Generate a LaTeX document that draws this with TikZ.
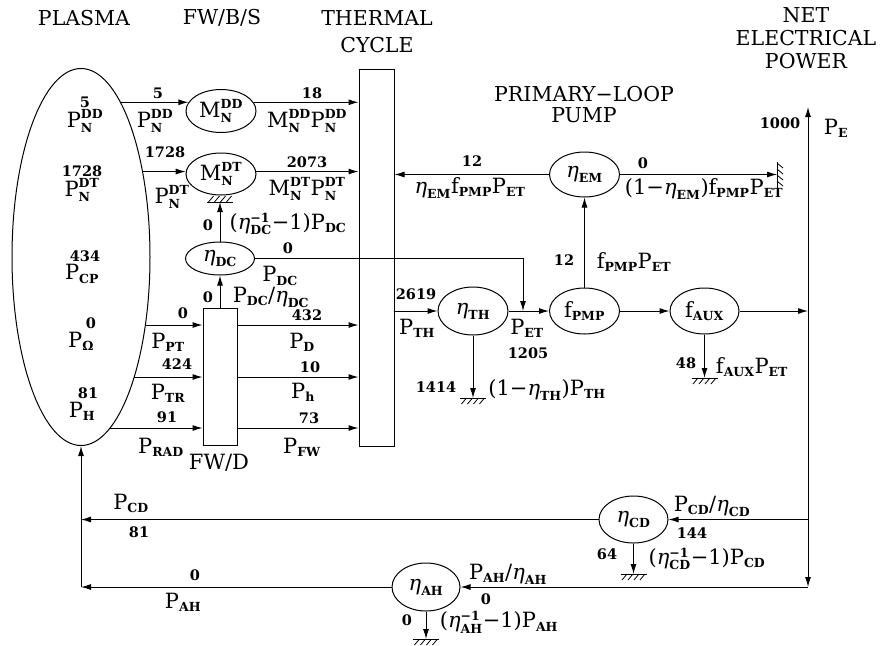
\RequirePackage{fix-cm}
\documentclass[tikz,border=0pt]{standalone}
\usepackage{fontspec}
\setmainfont{DejaVu Serif}
\usetikzlibrary{shapes.geometric,arrows.meta}
\newcommand{\sbx}[1]{\hbox{\fontsize{12.5}{13}\selectfont\bfseries #1}}
\newcommand{\xP}[1]{\ensuremath{\hbox{P}_{\sbx{#1}}}}
\newcommand{\xPP}[2]{\ensuremath{\hbox{P}^{\sbx{#1}}_{\sbx{#2}}}}
\newcommand{\xM}[2]{\ensuremath{\hbox{M}^{\sbx{#1}}_{\sbx{#2}}}}
\newcommand{\xf}[1]{\ensuremath{\hbox{f}_{\sbx{#1}}}}
\newcommand{\xe}[1]{\ensuremath{\hbox{\itshape η}_{\sbx{#1}}}}
\newcommand{\xei}[1]{\ensuremath{\hbox{\itshape η}^{\sbx{−1}}_{\sbx{#1}}}}
\tikzset{
  lab/.style={font=\fontsize{21}{24}\selectfont, inner sep=0pt},
  num/.style={font=\fontsize{14.5}{16}\selectfont\bfseries, inner sep=0pt},
  hdr/.style={font=\fontsize{20.5}{24}\selectfont, align=center, inner sep=0pt},
  ell/.style={draw, ellipse, inner sep=0pt, minimum width=70pt, minimum height=45pt, font=\fontsize{21}{24}\selectfont},
  blk/.style={draw, rectangle, inner sep=0pt},
  arr/.style={-{Latex[length=10pt,width=6pt]}},
  gnd/.pic={\draw[line width=0.9pt] (-13,0)--(13,0);
    \foreach \i in {-9,-3,3,9} \draw[line width=0.8pt] (\i+2.5,0)--(\i-2.5,6);}
}
\begin{document}
\begin{tikzpicture}[x=1pt,y=-1pt,line width=1pt]
\useasboundingbox (0,0) rectangle (890,645);

% headers
\node[hdr] (hPL) at (84,18) {PLASMA};
\node[hdr] (hFW) at (222,18) {FW/B/S};
\node[hdr, font=\fontsize{20.5}{27}\selectfont] (hTC) at (377,31.5) {THERMAL\\CYCLE};
\node[hdr, font=\fontsize{20.5}{21}\selectfont] (hPP) at (584,105) {PRIMARY−LOOP\\PUMP};
\node[hdr, font=\fontsize{20.5}{23}\selectfont] (hNE) at (806,38) {NET\\ELECTRICAL\\POWER};

% main blocks
\node[draw, ellipse, inner sep=0pt, minimum width=138pt, minimum height=377pt] (plasma) at (81,257) {};
\node[blk, minimum width=34pt, minimum height=137pt] (fwd) at (220,376.5) {};
\node[blk, minimum width=35pt, minimum height=377pt] (tc) at (376.5,257.5) {};

\node[ell, minimum height=43pt] (MDD) at (221,111) {\xM{DD}{N}};
\node[ell, minimum height=42pt] (MDT) at (221,174) {\xM{DT}{N}};
\node[ell, minimum width=69pt, minimum height=33pt] (etaDC) at (220,258.5) {\xe{DC}};
\node[ell, minimum height=48pt] (etaTH) at (473,311) {\xe{TH}};
\node[ell, minimum height=46pt] (fPMP) at (584.5,311) {\xf{PMP}};
\node[ell, minimum width=69pt, minimum height=46pt] (fAUX) at (704.5,311) {\xf{AUX}};
\node[ell, minimum height=45pt] (etaEM) at (584.5,174.5) {\xe{EM}};
\node[ell, minimum width=69pt, minimum height=47pt] (etaCD) at (633.5,519.5) {\xe{CD}};
\node[ell, minimum width=68pt, minimum height=48pt] (etaAH) at (426,587) {\xe{AH}};

\node[lab] (lFWD) at (219,463) {FW/D};

% plasma labels
\node[lab] (lDD) at (85,121) {\xPP{DD}{N}};
\node[num, anchor=south] (nDD) at ([yshift=0.5pt]lDD.north) {5};
\node[lab] (lDT) at (82,190) {\xPP{DT}{N}};
\node[num, anchor=south] (nDT) at ([yshift=0.5pt]lDT.north) {1728};
\node[lab] (lCP) at (82,274) {\xP{CP}};
\node[num, anchor=south] (nCP) at ([xshift=3pt,yshift=2pt]lCP.north) {434};
\node[lab] (lOM) at (81,341) {\xP{Ω}};
\node[num, anchor=south] (nOM) at ([xshift=10pt,yshift=2pt]lOM.north) {0};
\node[lab] (lH) at (82,411) {\xP{H}};
\node[num, anchor=south] (nH) at ([xshift=6pt,yshift=2pt]lH.north) {81};

% border coordinates on the plasma
\coordinate (pDD) at (120.6,0);
\coordinate (pDT) at (142.7,0);
\coordinate (pPT) at (145.4,325);
\coordinate (pTR) at (134.2,377);
\coordinate (pRAD) at (110,428);

% plasma -> M
\draw[arr] (pDD |- MDD.165) -- (MDD.165);
\draw[arr] (MDD.15) -- (MDD.15 -| tc.west);
\draw[arr] (pDT |- MDT.176) -- (MDT.176);
\draw[arr] (MDT.4) -- (MDT.4 -| tc.west);
\node[num] at (158,93) {5};
\node[lab] at (155,121) {\xPP{DD}{N}};
\node[num] at (312,93) {18};
\node[lab] at (307,121) {\xM{DD}{N}\xPP{DD}{N}};
\node[num] at (165,152) {1728};
\node[lab] at (172,197) {\xPP{DT}{N}};
\node[num] at (307,162) {2073};
\node[lab] at (307,189) {\xM{DT}{N}\xPP{DT}{N}};

% DC converter
\coordinate (gDT) at (220,202);
\draw[arr] (etaDC.north) -- (gDT);
\pic[rotate=180] at (gDT) {gnd};
\node[num] at (208,225) {0};
\node[lab] at (288,224) {(\xei{DC}−1)\xP{DC}};
\draw[arr] (fwd.north) -- (etaDC.south);
\node[num] at (208,297) {0};
\node[lab] at (271,297) {\xP{DC}/\xe{DC}};
\coordinate (dcx) at (523,0);
\draw[arr] (etaDC.east) -- (etaDC.east -| dcx) -- (dcx |- etaTH.east);
\node[num] at (288,248) {0};
\node[lab] at (280,276) {\xP{DC}};

% plasma -> FW/D -> thermal
\draw[arr] (pPT) -- (pPT -| fwd.west);
\draw[arr] (pTR) -- (pTR -| fwd.west);
\draw[arr] (pRAD) -- (pRAD -| fwd.west);
\draw[arr] (fwd.east |- pPT) -- (tc.west |- pPT);
\draw[arr] (fwd.east |- pTR) -- (tc.west |- pTR);
\draw[arr] (fwd.east |- pRAD) -- (tc.west |- pRAD);
\node[num] at (183,313) {0};
\node[lab] at (168,342) {\xP{PT}};
\node[num] at (177,364) {424};
\node[lab] at (168,393) {\xP{TR}};
\node[num] at (167,417) {91};
\node[lab] at (161,447) {\xP{RAD}};
\node[num] at (307,315) {432};
\node[lab] at (302,342) {\xP{D}};
\node[num] at (310,367) {10};
\node[lab] at (303,392) {\xP{h}};
\node[num] at (309,418) {73};
\node[lab] at (302,447) {\xP{FW}};

% thermal -> eta_TH
\draw[arr] (tc.east |- etaTH.west) -- (etaTH.west);
\node[num] at (416,294) {2619};
\node[lab] at (417,328) {\xP{TH}};
\draw[arr] (etaTH.east) -- (fPMP.west);
\node[lab] at (527,328) {\xP{ET}};
\node[num] at (528,353) {1205};
\coordinate (gTH) at (473,398);
\draw[arr] (etaTH.south) -- (gTH);
\pic at (gTH) {gnd};
\node[num] at (436,387) {1414};
\node[lab] at (547,390) {(1−\xe{TH})\xP{TH}};

% pump
\draw[arr] (fPMP.north) -- (etaEM.south);
\node[num] at (564,260) {12};
\node[lab] at (634,262) {\xf{PMP}\xP{ET}};
\draw[arr] (etaEM.west) -- (etaEM.west -| tc.east);
\node[num] at (472,161) {12};
\node[lab] at (470,188) {\xe{EM}\xf{PMP}\xP{ET}};
\coordinate (gEM) at (777,174.5);
\draw[arr] (etaEM.east) -- (gEM);
\pic[rotate=90] at (gEM) {gnd};
\node[num] at (643,163) {0};
\node[lab] at (704,189) {(1−\xe{EM})\xf{PMP}\xP{ET}};

% aux
\draw[arr] (fPMP.east) -- (fAUX.west);
\coordinate (gAUX) at (704.5,378);
\draw[arr] (fAUX.south) -- (gAUX);
\pic at (gAUX) {gnd};
\node[num] at (686,363) {48};
\node[lab] at (752,367) {\xf{AUX}\xP{ET}};

% net electrical power bus
\coordinate (J) at (808,311);
\coordinate (PEtop) at (808,107);
\coordinate (Rbot) at (808,587);
\draw[arr] (fAUX.east) -- (J);
\draw[arr] (J) -- (PEtop);
\draw[arr] (J) -- (Rbot);
\node[num] at (780,123) {1000};
\node[lab] at (836,128) {\xP{E}};

% current drive
\draw[arr] (J |- etaCD.east) -- (etaCD.east);
\node[lab] at (712,506) {\xP{CD}/\xe{CD}};
\node[num] at (692,533) {144};
\coordinate (gCD) at (633.5,574);
\draw[arr] (etaCD.south) -- (gCD);
\pic at (gCD) {gnd};
\node[num] at (607,554) {64};
\node[lab] at (707,559) {(\xei{CD}−1)\xP{CD}};
\coordinate (cCD) at (plasma.south |- etaCD.west);
\draw[arr] (etaCD.west) -- (cCD);
\node[lab] at (131,503) {\xP{CD}};
\node[num] at (139,532) {81};

% auxiliary heating
\draw[arr] (Rbot) -- (etaAH.east);
\node[lab] at (508,574) {\xP{AH}/\xe{AH}};
\node[num] at (486,599) {0};
\coordinate (gAH) at (426,639);
\draw[arr] (etaAH.south) -- (gAH);
\pic at (gAH) {gnd};
\node[num] at (407,620) {0};
\node[lab] at (499,622) {(\xei{AH}−1)\xP{AH}};
\coordinate (cAH) at (plasma.south |- etaAH.west);
\draw[arr] (etaAH.west) -- (cAH);
\node[num] at (195,575) {0};
\node[lab] at (183,602) {\xP{AH}};
\draw[arr] (cAH) -- (plasma.south);
\end{tikzpicture}
\end{document}
